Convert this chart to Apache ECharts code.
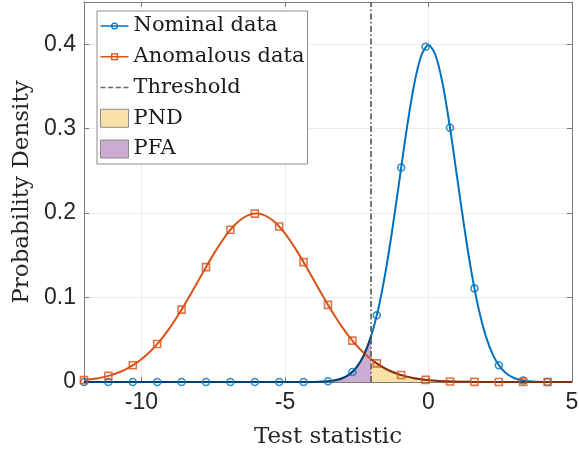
<!DOCTYPE html>
<html>
<head>
<meta charset="utf-8">
<script src="https://cdn.jsdelivr.net/npm/echarts@6/dist/echarts.min.js"></script>
<style>
html,body{margin:0;padding:0;background:#fff;}
#chart{width:579px;height:449px;}
</style>
</head>
<body>
<div id="chart"></div>
<script>
// ---- data ----
const curveX = [-12,-11.75,-11.5,-11.25,-11,-10.75,-10.5,-10.25,-10,-9.75,-9.5,-9.25,-9,-8.75,-8.5,-8.25,-8,-7.75,-7.5,-7.25,-7,-6.75,-6.5,-6.25,-6,-5.75,-5.5,-5.25,-5,-4.75,-4.5,-4.25,-4,-3.75,-3.5,-3.25,-3,-2.75,-2.5,-2.25,-2,-1.75,-1.5,-1.25,-1,-0.75,-0.5,-0.25,0,0.25,0.5,0.75,1,1.25,1.5,1.75,2,2.25,2.5,2.75,3,3.25,3.5,3.75,4,4.25,4.5,4.75,5];
const nominalY = [0,0,0,0,0,0,0,0,0,0,0,0,0,0,0,0,0,0,0,0,0,0,0,0,0,0,0,0,0,0,
  0.00002,0.00005,0.00013,0.00035,0.00087,0.00203,0.00443,0.00909,0.01753,0.03174,0.05399,0.08628,0.12952,0.18265,0.24197,0.30114,0.35207,0.38667,0.39894,
  0.38667,0.35207,0.30114,0.24197,0.18265,0.12952,0.08628,0.05399,0.03174,0.01753,0.00909,0.00443,0.00203,0.00087,0.00035,0.00013,0.00005,0.00002,0,0];
const anomalousY = [0.00222,0.00320,0.00455,0.00636,0.00876,0.01189,0.01587,0.02086,0.02699,0.03439,0.04315,0.05328,0.06476,0.07752,0.09132,0.10594,0.12098,0.13602,0.15056,0.16408,0.17603,0.18593,0.19333,0.19792,0.19947,
  0.19792,0.19333,0.18593,0.17603,0.16408,0.15056,0.13602,0.12098,0.10594,0.09132,0.07752,0.06476,0.05328,0.04315,0.03439,0.02699,0.02086,0.01587,0.01189,0.00876,0.00636,0.00455,0.00320,0.00222,
  0.00151,0.00101,0.00067,0.00044,0.00028,0.00018,0.00011,0.00007,0.00004,0.00003,0.00002,0.00001,0,0,0,0,0,0,0,0];
const markerX = [-12,-11.15,-10.3,-9.45,-8.6,-7.75,-6.9,-6.05,-5.2,-4.35,-3.5,-2.65,-1.8,-0.95,-0.1,0.75,1.6,2.45,3.3,4.15];
const nominalMarkY = [0,0,0,0,0,0,0,0,0,0.00003,0.00087,0.01191,0.07895,0.2540,0.3970,0.3011,0.1109,0.01984,0.00172,0.00007];
const anomalousMarkY = [0.00222,0.00725,0.01978,0.04506,0.08569,0.13602,0.18026,0.19941,0.18413,0.14194,0.09132,0.04905,0.02200,0.00823,0.00257,0.00067,0.00015,0.00003,0,0];
const threshold = -2;
const thresholdY = [0, 0.45];
const xTicks = [-10,-5,0,5];
const yTicks = [0,0.1,0.2,0.3,0.4];
const legendNames = ['Nominal data','Anomalous data','Threshold','PND','PFA'];

// ---- build series data ----
const pairs = (xs, ys) => xs.map((x, i) => [x, ys[i]]);
const nominalCurve = pairs(curveX, nominalY);
const anomalousCurve = pairs(curveX, anomalousY);
const pfaData = nominalCurve.filter(p => p[0] <= threshold);
const pndData = anomalousCurve.filter(p => p[0] >= threshold);
const thrData = thresholdY.map(y => [threshold, y]);

const BLUE = '#0072BD', ORANGE = '#D95319', GRAY = '#666666';
const AXIS = '#7a7a7a', TXT = '#262626';
const SERIF = '"DejaVu Serif", serif';
const SANS = '"Liberation Sans", Arial, sans-serif';

const corners = 'M0,0h0.01v0.01h-0.01z M0,17.99h0.01v0.01h-0.01z ';
const iconNominal = 'path://' + corners + 'M0,8.25h28v1.5h-28z M17.5,9A3.5,3.5,0,1,1,10.5,9A3.5,3.5,0,1,1,17.5,9z M16.2,9A2.2,2.2,0,1,0,11.8,9A2.2,2.2,0,1,0,16.2,9z';
const iconAnom = 'path://' + corners + 'M0,8.25h28v1.5h-28z M10.5,5.5h7v7h-7z M11.8,6.8v4.4h4.4v-4.4z';
const iconThr = 'path://' + corners + 'M0,8.25h5v1.5h-5z M7.67,8.25h5v1.5h-5z M15.33,8.25h5v1.5h-5z M23,8.25h5v1.5h-5z';

const chart = echarts.init(document.getElementById('chart'), null, {renderer: 'canvas'});
const baseX = {
  type: 'value', min: -12, max: 5,
  axisLine: {show: true, onZero: false, lineStyle: {color: AXIS, width: 1}},
  axisTick: {show: true, inside: true, length: 5, customValues: xTicks, lineStyle: {color: AXIS}},
  splitLine: {show: false}
};
const baseY = {
  type: 'value', min: 0, max: 0.45,
  axisLine: {show: true, onZero: false, lineStyle: {color: AXIS, width: 1}},
  axisTick: {show: true, inside: true, length: 5, customValues: yTicks, lineStyle: {color: AXIS}},
  splitLine: {show: false}
};

chart.setOption({
  animation: false,
  backgroundColor: '#fff',
  grid: {left: 84, right: 7, top: 2, bottom: 67, containLabel: false, outerBoundsMode: 'none'},
  xAxis: [
    Object.assign({}, baseX, {
      position: 'bottom',
      name: 'Test statistic', nameLocation: 'middle', nameGap: 44,
      nameTextStyle: {fontFamily: SERIF, fontSize: 23, color: TXT},
      axisLabel: {show: true, customValues: xTicks, margin: 9, fontFamily: SANS, fontSize: 23, color: TXT},
      splitLine: {show: true, lineStyle: {color: '#ebebeb', width: 1}}
    }),
    Object.assign({}, baseX, {position: 'top', axisLabel: {show: false}})
  ],
  yAxis: [
    Object.assign({}, baseY, {
      position: 'left',
      name: 'Probability Density', nameLocation: 'middle', nameGap: 48, nameRotate: 90,
      nameTextStyle: {fontFamily: SERIF, fontSize: 23, color: TXT},
      axisLabel: {show: true, customValues: yTicks, margin: 8, fontFamily: SANS, fontSize: 23, color: TXT,
        formatter: v => String(v)},
      splitLine: {show: true, lineStyle: {color: '#ebebeb', width: 1}}
    }),
    Object.assign({}, baseY, {position: 'right', axisLabel: {show: false}})
  ],
  legend: {
    orient: 'vertical', left: 97, top: 11,
    padding: [3, 3, 3, 3],
    itemWidth: 28, itemHeight: 18, itemGap: 6.75,
    backgroundColor: '#fff', borderColor: '#8c8c8c', borderWidth: 1,
    textStyle: {fontFamily: SERIF, fontSize: 21, color: '#1a1a1a', lineHeight: 24},
    selectedMode: false,
    data: [
      {name: legendNames[0], icon: iconNominal, itemStyle: {color: BLUE, borderWidth: 0}},
      {name: legendNames[1], icon: iconAnom, itemStyle: {color: ORANGE, borderWidth: 0}},
      {name: legendNames[2], icon: iconThr, itemStyle: {color: GRAY, borderWidth: 0}},
      {name: legendNames[3], icon: 'rect', itemStyle: {color: '#F8E0A6', borderColor: '#8a8a8a', borderWidth: 1}},
      {name: legendNames[4], icon: 'rect', itemStyle: {color: '#CBABD2', borderColor: '#8a8a8a', borderWidth: 1}}
    ]
  },
  series: [
    {
      name: legendNames[3], type: 'line', data: pndData, smooth: 0.3, showSymbol: false, z: 1,
      lineStyle: {width: 0}, itemStyle: {color: '#F8E0A6'},
      areaStyle: {color: 'rgba(237,177,32,0.4)', opacity: 1, origin: 'start'}
    },
    {
      name: legendNames[4], type: 'line', data: pfaData, smooth: 0.3, showSymbol: false, z: 1,
      lineStyle: {width: 0}, itemStyle: {color: '#CBABD2'},
      areaStyle: {color: 'rgba(126,47,142,0.4)', opacity: 1, origin: 'start'}
    },
    {
      name: legendNames[0], type: 'line', data: nominalCurve, smooth: 0.3, showSymbol: false, z: 2,
      lineStyle: {color: BLUE, width: 2}, itemStyle: {color: BLUE}
    },
    {
      name: legendNames[1], type: 'line', data: anomalousCurve, smooth: 0.3, showSymbol: false, z: 2,
      lineStyle: {color: ORANGE, width: 2}, itemStyle: {color: ORANGE}
    },
    {
      name: 'edgePFA', type: 'line', data: pfaData, smooth: 0.3, showSymbol: false, z: 3,
      lineStyle: {color: 'rgba(10,20,50,0.55)', width: 2}
    },
    {
      name: 'edgePND', type: 'line', data: pndData, smooth: 0.3, showSymbol: false, z: 3,
      lineStyle: {color: 'rgba(40,10,0,0.5)', width: 2}
    },
    {
      name: legendNames[2], type: 'line', data: thrData, showSymbol: false, z: 4,
      lineStyle: {color: GRAY, width: 1.8, type: [6, 2.5, 1.5, 2.5]}, itemStyle: {color: GRAY}
    },
    {
      name: legendNames[0], type: 'scatter', data: pairs(markerX, nominalMarkY), z: 5,
      symbol: 'circle', symbolSize: 7,
      itemStyle: {color: 'rgba(0,0,0,0)', borderColor: BLUE, borderWidth: 1.6}
    },
    {
      name: legendNames[1], type: 'scatter', data: pairs(markerX, anomalousMarkY), z: 5,
      symbol: 'rect', symbolSize: 7,
      itemStyle: {color: 'rgba(0,0,0,0)', borderColor: ORANGE, borderWidth: 1.6}
    }
  ]
});
</script>
</body>
</html>
